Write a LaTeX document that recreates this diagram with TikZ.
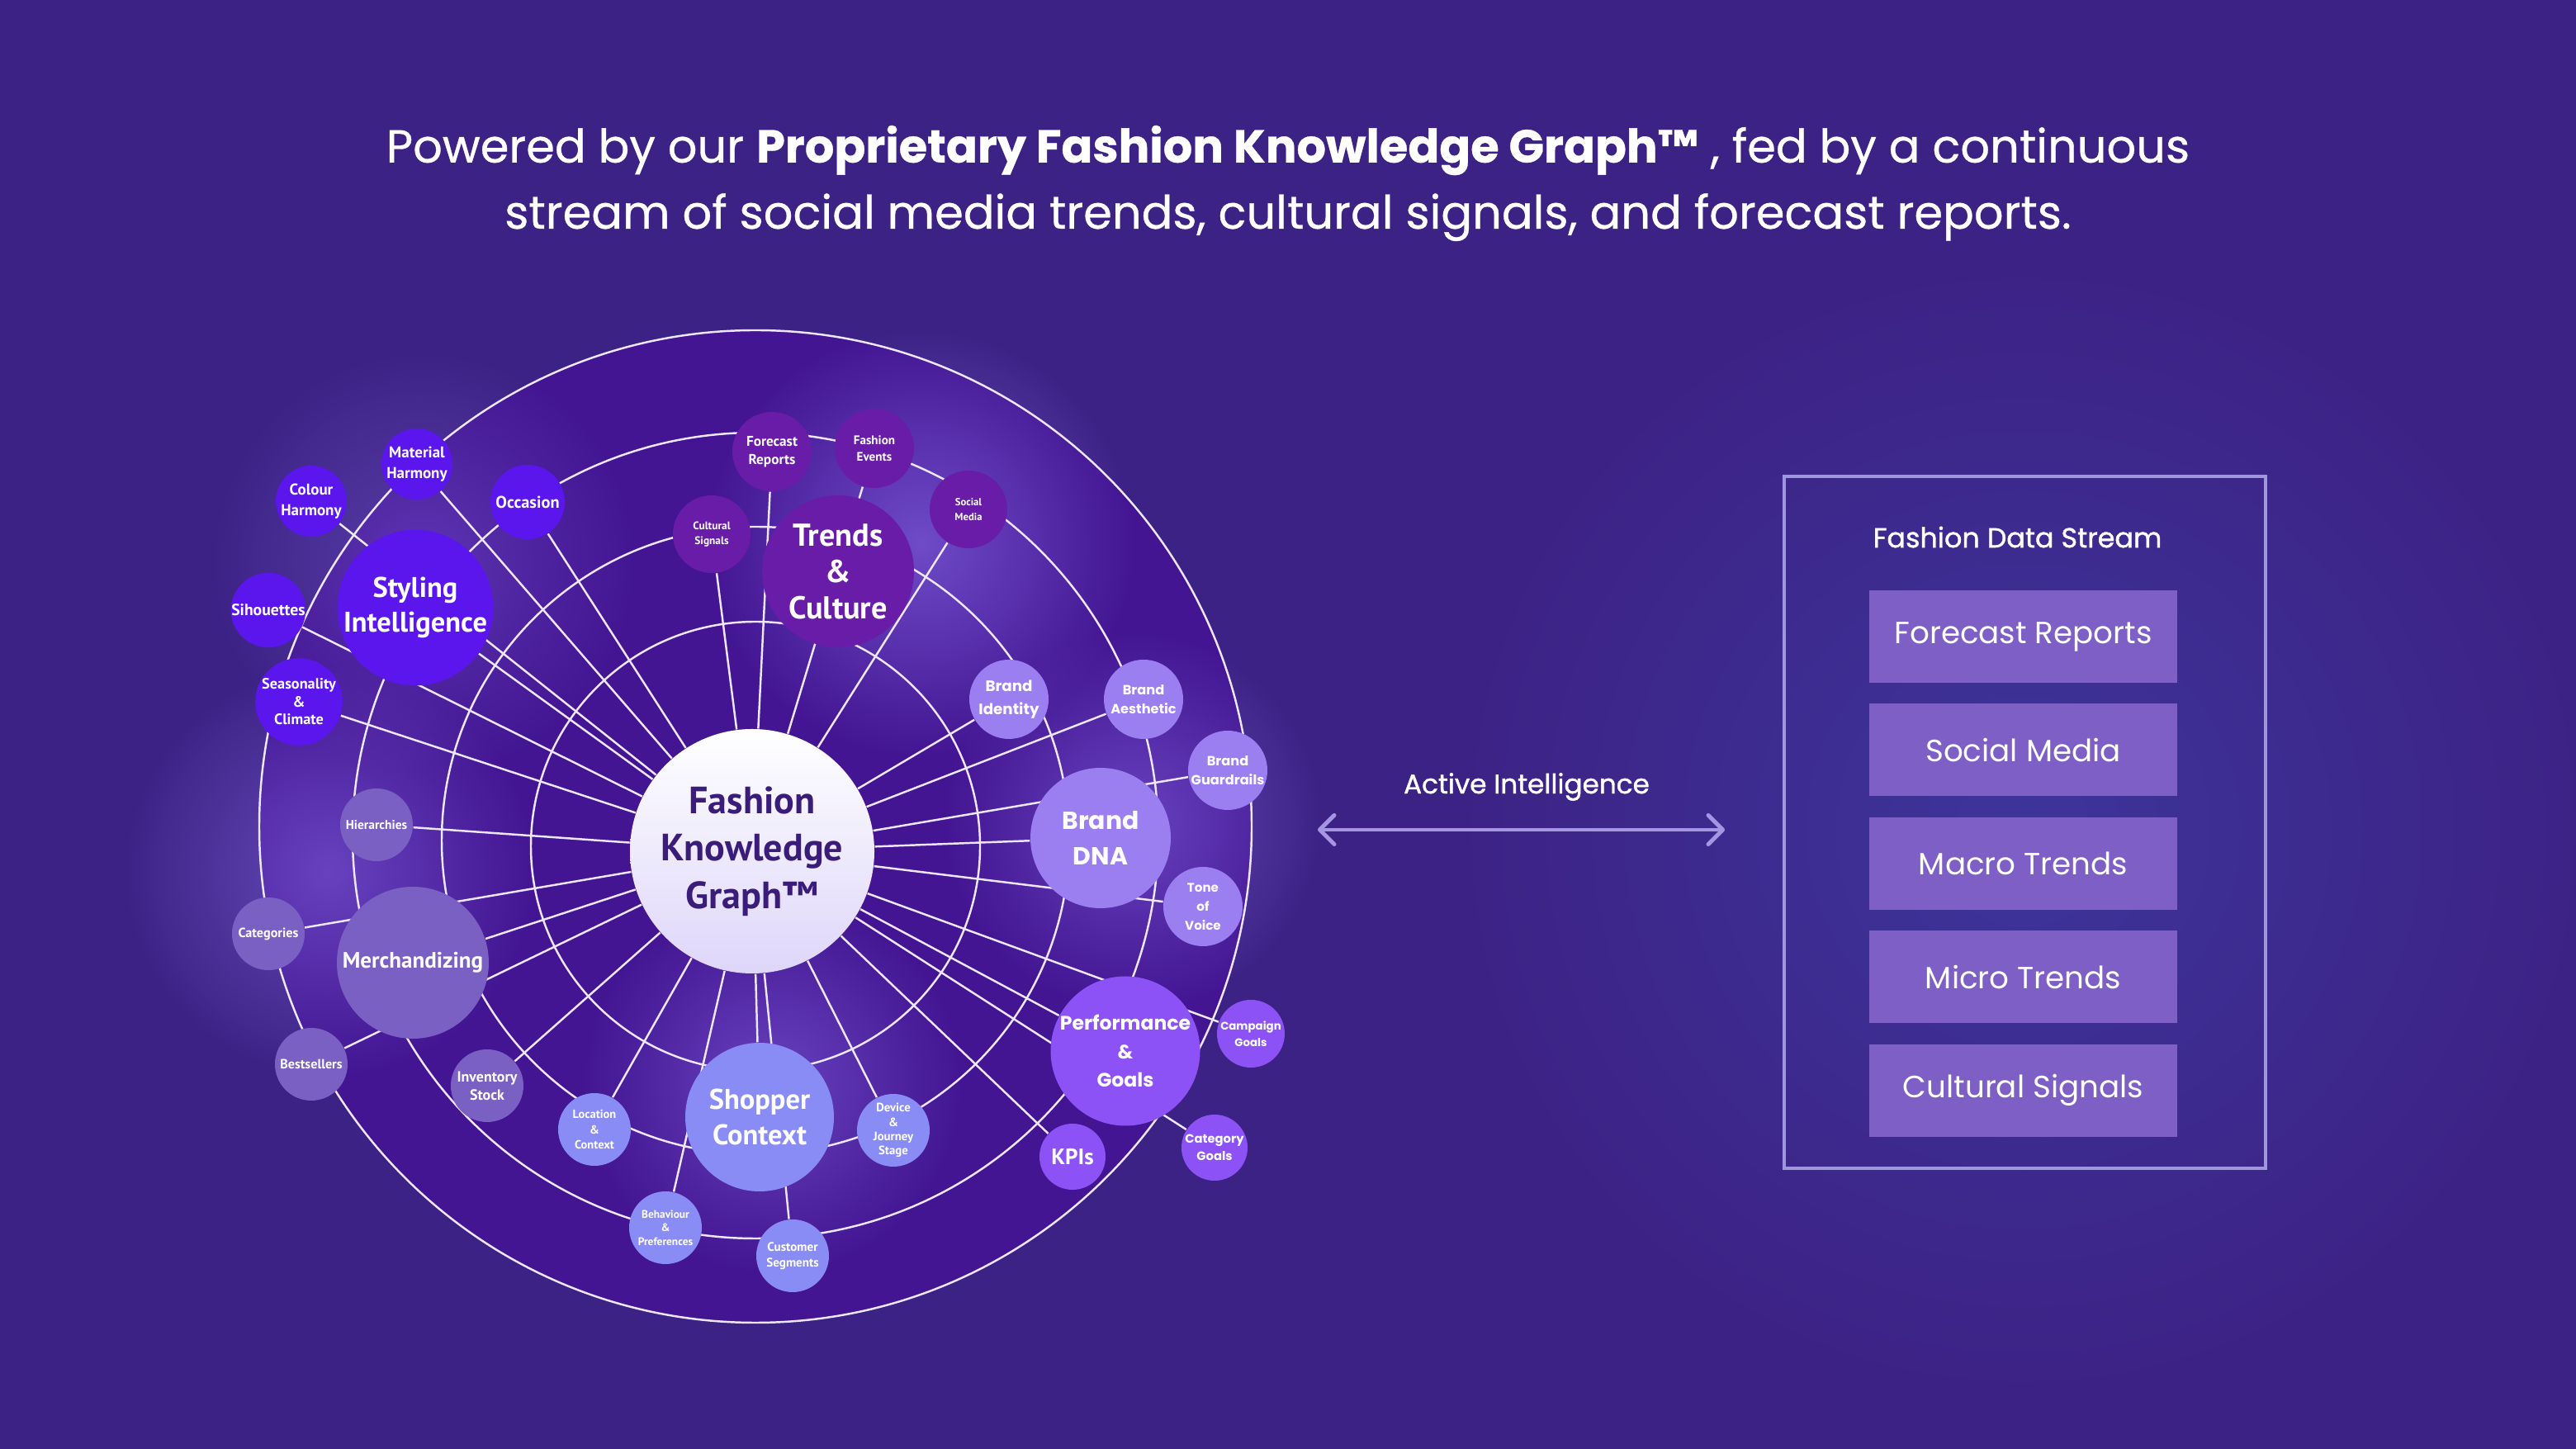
\documentclass[tikz,border=0pt]{standalone}
\usepackage{fontspec}
\setmainfont{Poppins}
\newfontfamily\ptsans{PT Sans}
\newfontfamily\popmed{Poppins}[FakeBold=1.2]
\newfontfamily\poptitle{Poppins}[FakeBold=0.6]
\usepackage{tikz}
\usetikzlibrary{calc,positioning,fadings,arrows.meta}

\definecolor{bgc}{RGB}{61,34,133}
\definecolor{innerc}{RGB}{67,21,146}
\definecolor{glowc}{RGB}{140,112,236}
\definecolor{boxglow}{RGB}{62,66,170}
\definecolor{linec}{RGB}{236,230,255}
\definecolor{kgbot}{RGB}{222,214,250}
\definecolor{kgtext}{RGB}{58,28,122}
\definecolor{stylc}{RGB}{90,22,236}
\definecolor{trendc}{RGB}{104,28,168}
\definecolor{brandc}{RGB}{155,126,240}
\definecolor{perfc}{RGB}{140,82,246}
\definecolor{shopc}{RGB}{138,140,246}
\definecolor{merchc}{RGB}{123,96,196}
\definecolor{feedc}{RGB}{125,95,198}
\definecolor{framec}{RGB}{160,150,222}
\definecolor{arrowc}{RGB}{165,150,226}

\tikzfading[name=softglow,inner color=transparent!0,outer color=transparent!100]

\pgfdeclarelayer{back}
\pgfdeclarelayer{lines}
\pgfsetlayers{back,lines,main}

\tikzset{
  bubble/.style={circle,inner sep=0pt,align=center,text=white,font=\ptsans\bfseries\fontsize{5.2}{6.6}\selectfont},
  hub/.style={bubble,minimum size=18.4mm,font=\ptsans\bfseries\fontsize{9.8}{12}\selectfont},
  leaf/.style={bubble,minimum size=8.8mm},
  fz/.style n args={2}{font=\ptsans\bfseries\fontsize{#1}{#2}\selectfont},
  pz/.style n args={2}{font=\bfseries\fontsize{#1}{#2}\selectfont},
  styl/.style={fill=stylc},
  trend/.style={fill=trendc},
  brand/.style={fill=brandc},
  perform/.style={fill=perfc},
  shop/.style={fill=shopc},
  merchs/.style={fill=merchc},
  spoke/.style={draw=linec,line width=0.7pt},
  ring/.style={draw=linec,line width=0.7pt},
  feed/.style={fill=feedc,minimum width=37.3mm,minimum height=11.2mm,inner sep=0pt,text=white,font=\fontsize{10.6}{12}\selectfont},
  stream/.style={draw=framec,line width=1.4pt,minimum width=58.3mm,minimum height=83.8mm},
  glow/.style={fill=glowc,path fading=softglow},
  flow/.style={draw=arrowc,line width=1.4pt,line cap=round,{Straight Barb[round,length=5pt,width=10pt]}-{Straight Barb[round,length=5pt,width=10pt]}}
}

\begin{document}
\begin{tikzpicture}
\useasboundingbox (0,0) rectangle (312mm,175.5mm);

\node[circle,minimum size=29.6mm,inner sep=0pt,top color=white,bottom color=kgbot,align=center,text=kgtext,font=\ptsans\bfseries\fontsize{13.1}{16.4}\selectfont] (kg) at (91.1mm,72.4mm) {Fashion\\Knowledge\\Graph™};

\node[hub,styl] (styling) at ($(kg)+(-40.8mm,29.5mm)$) {Styling\\Intelligence};
\node[leaf,styl,minimum size=8.6mm,fz={5.4}{7}] (material) at ($(kg)+(-40.6mm,46.9mm)$) {Material\\Harmony};
\node[leaf,styl,minimum size=8.6mm,fz={5.4}{7}] (colour) at ($(kg)+(-53.4mm,42.4mm)$) {Colour\\Harmony};
\node[leaf,styl,minimum size=9mm,fz={5.8}{7}] (occasion) at ($(kg)+(-27.2mm,42.3mm)$) {Occasion};
\node[leaf,styl,minimum size=9mm,fz={5.6}{7}] (sihouettes) at ($(kg)+(-58.6mm,29.2mm)$) {Sihouettes};
\node[leaf,styl,minimum size=9.2mm,fz={5.2}{6.1}] (seasonality) at ($(kg)+(-54.9mm,18.1mm)$) {Seasonality\\\&\\Climate};

\node[hub,trend,fz={10.9}{12.5}] (trends) at ($(kg)+(10.4mm,33.9mm)$) {Trends\\\&\\Culture};
\node[leaf,trend,minimum size=9.4mm,fz={3.8}{5}] (cultural) at ($(kg)+(-4.9mm,38.4mm)$) {Cultural\\Signals};
\node[leaf,trend,minimum size=9.6mm,fz={4.9}{6.3}] (forecast) at ($(kg)+(2.4mm,48.4mm)$) {Forecast\\Reports};
\node[leaf,trend,minimum size=9.6mm,fz={4.3}{5.7}] (events) at ($(kg)+(14.8mm,48.8mm)$) {Fashion\\Events};
\node[leaf,trend,minimum size=9.4mm,fz={3.6}{5}] (social) at ($(kg)+(26.2mm,41.4mm)$) {Social\\Media};

\node[hub,brand,minimum size=17mm,pz={8.5}{12}] (dna) at ($(kg)+(42.2mm,1.6mm)$) {Brand\\DNA};
\node[leaf,brand,minimum size=9.6mm,pz={5.2}{7.8}] (identity) at ($(kg)+(31.1mm,18.4mm)$) {Brand\\Identity};
\node[leaf,brand,minimum size=9.6mm,pz={4.6}{6.6}] (aesthetic) at ($(kg)+(47.4mm,18.4mm)$) {Brand\\Aesthetic};
\node[leaf,brand,minimum size=9.6mm,pz={4.6}{6.6}] (guardrails) at ($(kg)+(57.6mm,9.8mm)$) {Brand\\Guardrails};
\node[leaf,brand,minimum size=9.6mm,pz={4.3}{6.5}] (tone) at ($(kg)+(54.6mm,-6.7mm)$) {Tone\\of\\Voice};

\node[hub,perform,minimum size=17mm,pz={6.7}{9.8}] (perf) at ($(kg)+(45.2mm,-24.2mm)$) {Performance\\\&\\Goals};
\node[leaf,perform,minimum size=8.2mm,pz={3.8}{5.6}] (campaign) at ($(kg)+(60.4mm,-22.1mm)$) {Campaign\\Goals};
\node[leaf,perform,minimum size=8mm,pz={4.2}{6}] (category) at ($(kg)+(56mm,-35.9mm)$) {Category\\Goals};
\node[leaf,perform,minimum size=8mm,fz={7.7}{9}] (kpis) at ($(kg)+(38.8mm,-37mm)$) {KPIs};

\node[hub,shop,minimum size=18mm,fz={9.8}{12}] (shopper) at ($(kg)+(0.9mm,-32.2mm)$) {Shopper\\Context};
\node[leaf,shop,fz={4.1}{5.3}] (location) at ($(kg)+(-19.1mm,-33.7mm)$) {Location\\\&\\Context};
\node[leaf,shop,fz={4.2}{4.9}] (device) at ($(kg)+(17.1mm,-33.8mm)$) {Device\\\&\\Journey\\Stage};
\node[leaf,shop,fz={3.8}{4.7}] (behaviour) at ($(kg)+(-10.5mm,-45.6mm)$) {Behaviour\\\&\\Preferences};
\node[leaf,shop,fz={4.3}{5.4}] (customer) at ($(kg)+(4.9mm,-49mm)$) {Customer\\Segments};

\node[hub,merchs,fz={7.7}{9}] (merch) at ($(kg)+(-41.1mm,-13.5mm)$) {Merchandizing};
\node[leaf,merchs,fz={4.4}{5.5}] (hierarchies) at ($(kg)+(-45.5mm,3.2mm)$) {Hierarchies};
\node[leaf,merchs,fz={4.6}{5.5}] (categories) at ($(kg)+(-58.6mm,-10mm)$) {Categories};
\node[leaf,merchs,fz={4.6}{5.5}] (bestsellers) at ($(kg)+(-53.4mm,-25.8mm)$) {Bestsellers};
\node[leaf,merchs,fz={5.1}{6.3}] (inventory) at ($(kg)+(-32.1mm,-28.4mm)$) {Inventory\\Stock};

\node[align=center,text=white,font=\poptitle\fontsize{15.9}{22.8}\selectfont] (headline) at (156mm,153.3mm) {Powered by our \textbf{Proprietary Fashion Knowledge Graph™} , fed by a continuous\\stream of social media trends, cultural signals, and forecast reports.};

\node[stream] (stream) at (245.25mm,75.9mm) {};
\node[text=white,font=\popmed\fontsize{9.5}{11}\selectfont] (streamtitle) at ($(stream.north)+(-0.9mm,-7.6mm)$) {Fashion Data Stream};
\node[feed] (f1) at (245.05mm,98.4mm) {Forecast Reports};
\node[feed,below=2.4mm of f1] (f2) {Social Media};
\node[feed,below=2.4mm of f2] (f3) {Macro Trends};
\node[feed,below=2.4mm of f3] (f4) {Micro Trends};
\node[feed,below=2.4mm of f4] (f5) {Cultural Signals};

\node[text=white,font=\popmed\fontsize{9.3}{10}\selectfont] (ai) at (184.9mm,80.2mm) {Active Intelligence};
\coordinate (lend) at ($(ai)+(-25.3mm,-5.2mm)$);
\coordinate (rend) at ($(ai)+(24mm,-5.2mm)$);
\draw[flow] (lend) -- (rend);

\begin{pgfonlayer}{back}
\fill[bgc] (0,0) rectangle (312mm,175.5mm);
\fill[boxglow,path fading=softglow,fill opacity=0.6] (245mm,75mm) circle (70mm);
\fill[innerc] ($(kg)+(0.4mm,3mm)$) circle (60.1mm);
\fill[glow,fill opacity=0.6] ($(kg)+(20.4mm,37.4mm)$) circle (26mm);
\fill[glow,fill opacity=0.5] ($(kg)+(46.2mm,3.6mm)$) circle (23mm);
\fill[glow,fill opacity=0.5] ($(kg)+(2.4mm,-28.2mm)$) circle (23mm);
\fill[glow,fill opacity=0.5] ($(kg)+(-51.3mm,-2.4mm)$) circle (25mm);
\fill[glow,fill opacity=0.35] ($(kg)+(-40mm,35mm)$) circle (26mm);
\end{pgfonlayer}

\begin{pgfonlayer}{lines}
\draw[ring] ($(kg)+(0.4mm,0.6mm)$) circle (27.2mm);
\draw[ring] ($(kg)+(0.4mm,1.3mm)$) circle (38mm);
\draw[ring] ($(kg)+(0.4mm,1.9mm)$) circle (48.8mm);
\draw[ring] ($(kg)+(0.4mm,3mm)$) circle (60.1mm);
\draw[spoke] (kg) -- (colour) (kg) -- (material) (kg) -- (occasion) (kg) -- (sihouettes) (kg) -- (seasonality) (kg) -- (styling);
\draw[spoke] (kg) -- (cultural) (kg) -- (forecast) (kg) -- (events) (kg) -- (social);
\draw[spoke] (kg) -- (identity) (kg) -- (aesthetic) (kg) -- (guardrails) (kg) -- (dna) (kg) -- (tone);
\draw[spoke] (kg) -- (campaign) (kg) -- (perf) (kg) -- (category) (kg) -- (kpis);
\draw[spoke] (kg) -- (device) (kg) -- (customer) (kg) -- (shopper) (kg) -- (behaviour) (kg) -- (location);
\draw[spoke] (kg) -- (inventory) (kg) -- (bestsellers) (kg) -- (merch) (kg) -- (categories) (kg) -- (hierarchies);
\end{pgfonlayer}
\end{tikzpicture}
\end{document}
